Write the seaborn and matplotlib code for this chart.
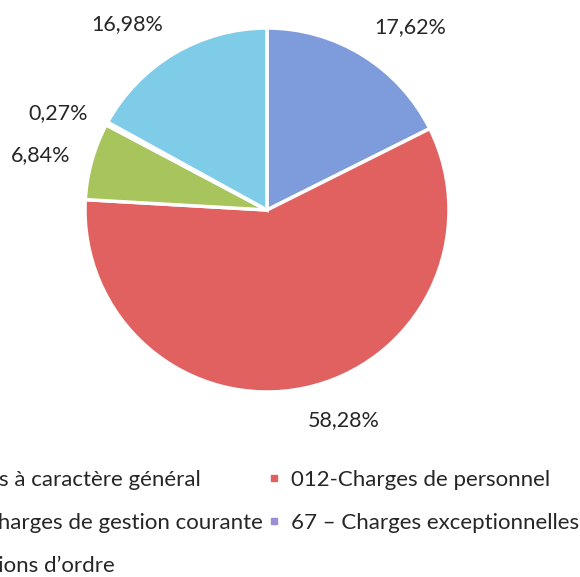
import numpy as np
import matplotlib.pyplot as plt
import seaborn as sns
from matplotlib.lines import Line2D

# data
categories = ["011-Charges à caractère général",
              "012-Charges de personnel",
              "65-Autres charges de gestion courante",
              "67 – Charges exceptionnelles",
              "042-Opérations d’ordre"]
shares = [17.62, 58.28, 6.84, 0.27, 16.98]
pct_labels = ["17,62%", "58,28%", "6,84%", "0,27%", "16,98%"]
colors = ["#7E9BDB", "#E0615F", "#A8C45C", "#9A8ED6", "#7FCCE8"]

sns.set_theme(style="white")
plt.rcParams["font.family"] = ["Lato", "DejaVu Sans"]
text_col = "#262626"

fig = plt.figure(figsize=(5.8, 5.77), dpi=100)
ax = fig.add_axes([57 / 580, 1 - 420 / 577, 420 / 580, 420 / 577])

wedges, _ = ax.pie(shares, colors=colors, startangle=90, counterclock=False,
                   wedgeprops=dict(edgecolor="white", linewidth=2.5))
lim = 210 / 182
ax.set_xlim(-lim, lim)
ax.set_ylim(-lim, lim)
ax.set_aspect("equal")
ax.axis("off")

# percentage labels just outside each wedge
for w, lab in zip(wedges, pct_labels):
    mid = np.deg2rad((w.theta1 + w.theta2) / 2)
    c, s = np.cos(mid), np.sin(mid)
    ha = "left" if c > 0.1 else ("right" if c < -0.1 else "center")
    va = "bottom" if s > 0.5 else ("top" if s < -0.5 else "center")
    ax.text(1.12 * c, 1.12 * s, lab, ha=ha, va=va, fontsize=15.5, color=text_col)

# legend, two columns, left column cut by the figure edge
handles = [Line2D([], [], marker="s", ls="none", ms=5, mfc=col, mec=col)
           for col in colors]
order = [0, 2, 4, 1, 3]
fig.legend([handles[i] for i in order], [categories[i] for i in order],
           ncol=2, loc="upper right", bbox_to_anchor=(579 / 580, 1 - 470 / 577),
           frameon=False, fontsize=16, handlelength=0.6, handletextpad=0.45,
           columnspacing=0.2, labelspacing=1.02, borderpad=0, borderaxespad=0,
           labelcolor=text_col)

fig.savefig("out.png", dpi=100)
